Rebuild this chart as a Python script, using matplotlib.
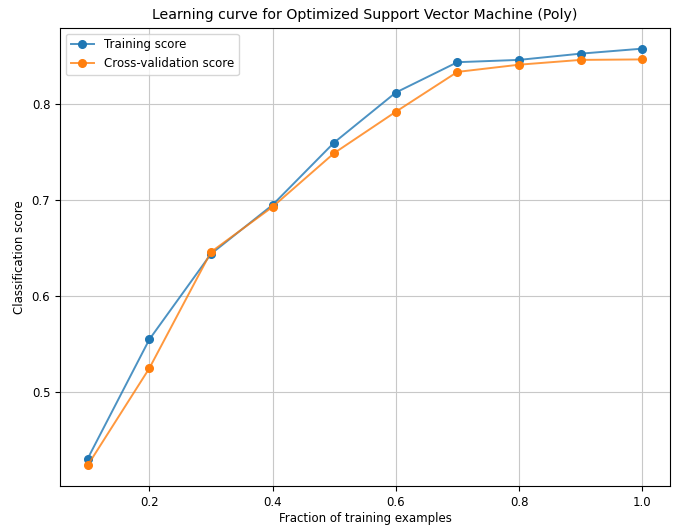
import matplotlib
matplotlib.use("Agg")
import matplotlib.pyplot as plt
from matplotlib.colors import to_rgba

fractions = [0.1, 0.2, 0.3, 0.4, 0.5, 0.6, 0.7, 0.8, 0.9, 1.0]
train_scores = [0.431, 0.555, 0.644, 0.695, 0.760, 0.812, 0.8436, 0.846, 0.8525, 0.8577]
cv_scores = [0.424, 0.525, 0.646, 0.693, 0.749, 0.792, 0.8335, 0.841, 0.846, 0.8465]

blue = "#1f77b4"
orange = "#ff7f0e"

fig = plt.figure(figsize=(6.74, 5.25), dpi=100)
ax = fig.add_axes([0.089, 0.074, 0.905, 0.873])
ax.plot(fractions, train_scores, "o-", color=to_rgba(blue, 0.8), lw=1.4,
        mfc=blue, mec=blue, ms=5.5, label="Training score")
ax.plot(fractions, cv_scores, "o-", color=to_rgba(orange, 0.8), lw=1.4,
        mfc=orange, mec=orange, ms=5.5, label="Cross-validation score")
ax.set_title("Learning curve for Optimized Support Vector Machine (Poly)", fontsize=10.2)
ax.set_xlabel("Fraction of training examples", fontsize=8.5, labelpad=2)
ax.set_ylabel("Classification score", fontsize=8.5)
ax.tick_params(labelsize=8.5)
ax.grid(True, color="#c8c8c8")
ax.legend(loc="upper left", fontsize=8.5)
fig.savefig("out.png", dpi=100)
